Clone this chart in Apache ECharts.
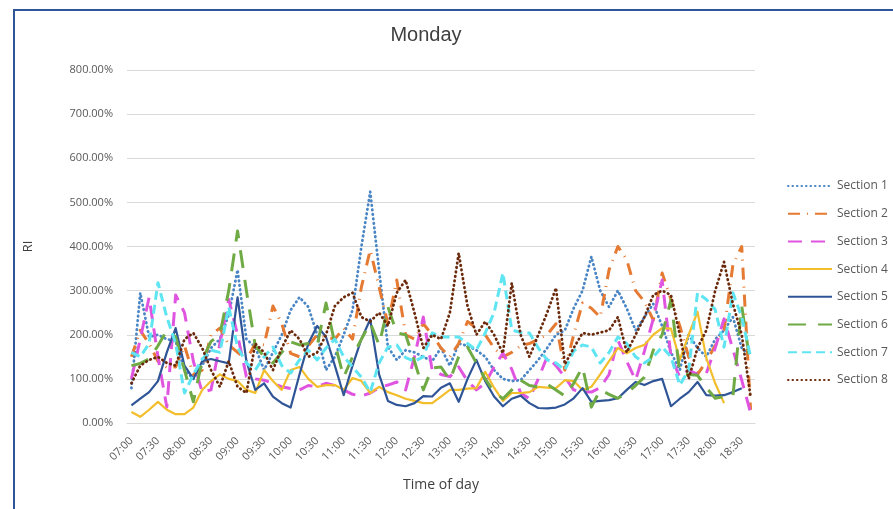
<!DOCTYPE html>
<html><head><meta charset="utf-8">
<script src="https://cdn.jsdelivr.net/npm/echarts@6/dist/echarts.min.js"></script>
<style>html,body{margin:0;padding:0;background:#fff}#c{width:893px;height:509px}</style>
</head><body><div id="c"></div>
<script>
const categories = ["07:00","07:10","07:20","07:30","07:40","07:50","08:00","08:10","08:20","08:30","08:40","08:50",
"09:00","09:10","09:20","09:30","09:40","09:50","10:00","10:10","10:20","10:30","10:40","10:50",
"11:00","11:10","11:20","11:30","11:40","11:50","12:00","12:10","12:20","12:30","12:40","12:50",
"13:00","13:10","13:20","13:30","13:40","13:50","14:00","14:10","14:20","14:30","14:40","14:50",
"15:00","15:10","15:20","15:30","15:40","15:50","16:00","16:10","16:20","16:30","16:40","16:50",
"17:00","17:10","17:20","17:30","17:40","17:50","18:00","18:10","18:20","18:30","18:40"];
const yTicks = [0,100,200,300,400,500,600,700,800];

const section1 = [79,295,195,200,190,185,120,100,130,170,190,245,347,190,172,120,160,200,256,285,263,200,120,150,200,256,400,524,347,172,143,165,160,150,140,170,130,180,175,165,150,120,100,95,97,120,143,170,200,210,260,300,377,300,263,300,260,210,240,270,220,160,120,200,170,150,190,210,240,170,150];
const section2 = [150,210,180,140,126,127,175,110,120,200,215,177,160,143,180,177,265,225,158,150,175,200,195,190,215,190,308,392,308,225,324,200,190,225,200,170,150,180,230,215,200,170,150,160,175,180,190,200,225,120,200,272,260,240,347,400,370,300,275,233,340,280,220,150,110,140,175,210,358,400,30];
const section3 = [100,190,285,150,36,290,250,140,70,75,180,280,200,105,100,97,90,82,78,75,85,82,90,85,75,65,61,68,80,86,93,75,150,240,120,110,105,127,95,75,90,127,158,122,68,55,100,150,130,104,75,70,70,80,110,188,140,97,163,236,324,150,104,120,110,113,170,236,167,97,23];
const section4 = [25,14,30,48,30,20,20,35,75,95,110,100,95,75,68,120,95,75,120,127,100,82,86,86,75,102,95,68,82,70,63,55,50,45,45,60,75,75,78,79,116,80,50,68,68,70,82,80,79,97,95,75,82,110,140,170,158,170,177,200,215,214,143,200,252,147,90,45,null,null,null];
const section5 = [40,55,70,95,160,215,130,100,140,145,140,135,285,140,75,90,60,45,35,110,180,220,195,130,63,130,190,235,110,50,41,38,45,61,60,80,90,48,100,143,95,60,38,55,62,45,34,33,35,42,56,79,48,50,52,56,75,93,86,95,100,38,55,70,93,63,62,63,70,79,null];
const section6 = [130,135,145,175,210,195,120,48,143,185,200,300,435,300,175,150,136,160,184,177,180,175,272,180,104,150,190,227,177,263,204,200,140,75,125,127,97,150,172,136,100,70,55,75,97,85,82,88,75,61,90,127,36,75,65,56,68,85,104,165,200,279,113,110,108,80,56,60,60,265,130];
const section7 = [160,150,180,318,240,180,68,110,145,165,160,263,172,136,120,150,172,130,113,143,165,143,170,190,150,127,104,70,136,172,177,148,140,150,204,195,195,195,180,165,204,250,340,211,205,204,170,143,136,120,163,177,172,136,160,195,180,150,136,150,172,150,86,120,295,280,257,172,295,240,150];
const section8 = [90,130,143,150,136,130,190,204,170,120,82,140,82,68,180,160,120,170,210,190,150,160,200,265,285,295,240,230,250,220,295,324,250,170,200,190,250,385,265,200,230,200,158,317,200,150,200,250,306,133,170,204,200,205,210,240,160,200,240,290,300,290,200,100,170,210,300,365,270,200,60];

const seriesNames = ["Section 1","Section 2","Section 3","Section 4","Section 5","Section 6","Section 7","Section 8"];
const seriesData = [section1,section2,section3,section4,section5,section6,section7,section8];
const styles = [
  {color:'#4A86C5', width:2.8, type:[0.5,4], cap:'round'},
  {color:'#E57A33', width:3, type:[12,7,1,7], cap:'butt'},
  {color:'#E055E0', width:3, type:[14,9], cap:'butt'},
  {color:'#F2BE2C', width:2.2, type:'solid', cap:'butt'},
  {color:'#2F5597', width:2.2, type:'solid', cap:'butt'},
  {color:'#6FAA45', width:3, type:[18,12], cap:'butt'},
  {color:'#5FE5F2', width:3, type:[9,5], cap:'butt'},
  {color:'#6B2A0C', width:2.8, type:[0.5,4], cap:'round'}
];

const chart = echarts.init(document.getElementById('c'), null, {renderer:'canvas'});
const font = "'Open Sans', 'Noto Sans', sans-serif";
chart.setOption({
  animation:false,
  backgroundColor:'#fff',
  title:{text:'Monday', left:421, textAlign:'center', top:20,
    textStyle:{fontSize:20, fontWeight:'normal', color:'#404040', fontFamily:"'Liberation Sans', Arial, sans-serif"}},
  legend:{orient:'vertical', left:782, top:174, itemWidth:44, itemHeight:14, itemGap:13.7,
    itemStyle:{opacity:0},
    textStyle:{fontSize:12, color:'#595959', fontFamily:font, height:14, lineHeight:14, padding:[0,0,0,0]},
    data:seriesNames},
  grid:{left:127, right:138, top:70, bottom:86},
  xAxis:{type:'category', data:categories, boundaryGap:true,
    name:'Time of day', nameLocation:'middle', nameGap:55,
    nameTextStyle:{fontSize:14, color:'#404040', fontFamily:font},
    axisLine:{lineStyle:{color:'#d9d9d9'}}, axisTick:{show:false},
    axisLabel:{interval:2, rotate:45, fontSize:11, color:'#595959', margin:16, fontFamily:font}},
  yAxis:{type:'value', min:yTicks[0], max:yTicks[yTicks.length-1], interval:100,
    name:'RI', nameLocation:'middle', nameGap:92,
    nameTextStyle:{fontSize:13, color:'#404040', fontFamily:font},
    axisLine:{show:false}, axisTick:{show:false},
    splitLine:{lineStyle:{color:'#d9d9d9'}},
    axisLabel:{formatter:v=>v.toFixed(2)+'%', fontSize:11, color:'#595959', margin:14, fontFamily:font}},
  graphic:[{type:'rect', shape:{x:14, y:10, width:900, height:520}, style:{fill:'none', stroke:'#2F5597', lineWidth:2}, z:100}],
  series:seriesNames.map((n,k)=>({
    name:n, type:'line', data:seriesData[k], symbol:'none', connectNulls:false,
    itemStyle:{color:styles[k].color},
    lineStyle:{color:styles[k].color, width:styles[k].width, type:styles[k].type, cap:styles[k].cap, join:'round'}
  }))
});
</script></body></html>
